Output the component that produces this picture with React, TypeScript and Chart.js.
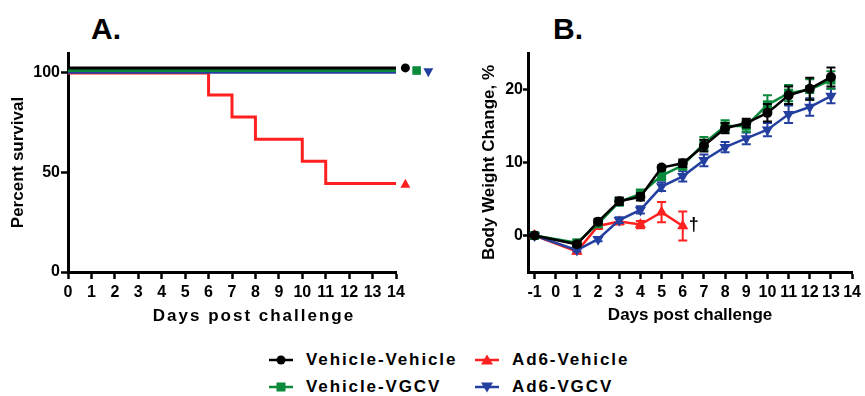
import React, { useEffect, useRef } from "react";
import { Chart, registerables } from "chart.js";

Chart.register(...registerables);

const FONT = '"Liberation Sans", Arial, Helvetica, sans-serif';

const C_VV = "#000000";
const C_AV = "#ff2020";
const C_VG = "#0b8a3b";
const C_AG = "#2340a0";

// ---------- Panel A: survival ----------
const SURV_X_TICKS = [0, 1, 2, 3, 4, 5, 6, 7, 8, 9, 10, 11, 12, 13, 14];
const SURV_Y_TICKS = [0, 50, 100];
const SURV_DAYS_FLAT = [0, 14];
const SURV_VV = [102.5, 102.5];
const SURV_VG = [101.2, 101.2];
const SURV_AG = [100.3, 100.3];
const SURV_DAYS_AV = [0, 6, 7, 8, 10, 11, 14];
const SURV_AV = [100, 88.9, 77.8, 66.7, 55.6, 44.4, 44.4];
// symbols printed beside the curve ends (x in days)
const END_MARK_X = [14.4, 14.88, 15.38];
const END_MARK_AV_X = 14.4;

// ---------- Panel B: body weight ----------
const WEIGHT_X_TICKS = [-1, 0, 1, 2, 3, 4, 5, 6, 7, 8, 9, 10, 11, 12, 13, 14];
const WEIGHT_Y_TICKS = [0, 10, 20];
const WEIGHT_DAYS = [-1, 1, 2, 3, 4, 5, 6, 7, 8, 9, 10, 11, 12, 13];
const WEIGHT_VV = [0, -1.2, 1.9, 4.7, 5.3, 9.3, 9.9, 12.3, 14.7, 15.4, 16.8, 19.2, 20.1, 21.7];
const WEIGHT_VV_ERR = [0, 0.3, 0.4, 0.5, 0.5, 0.3, 0.5, 0.8, 0.7, 0.6, 1.2, 1.2, 1.5, 1.3];
const WEIGHT_VG = [0, -1.0, 1.6, 4.6, 5.7, 8.2, 9.6, 12.6, 15.0, 15.0, 17.9, 19.5, 20.0, 21.3];
const WEIGHT_VG_ERR = [0, 0.3, 0.4, 0.5, 0.6, 0.6, 0.6, 0.9, 0.8, 0.8, 1.3, 1.1, 1.4, 1.2];
const WEIGHT_AG = [0, -2.0, -0.5, 2.1, 3.5, 6.7, 8.1, 10.3, 12.1, 13.3, 14.5, 16.6, 17.6, 19.1];
const WEIGHT_AG_ERR = [0, 0.2, 0.3, 0.4, 0.5, 0.6, 0.7, 0.8, 0.7, 0.8, 0.9, 1.2, 1.2, 1.0];
const WEIGHT_DAYS_AV = [-1, 1, 2, 3, 4, 5, 6];
const WEIGHT_AV = [0, -2.2, 1.3, 1.9, 1.5, 3.2, 1.3];
const WEIGHT_AV_ERR = [0, 0.3, 0.4, 0.4, 0.5, 1.4, 2.0];

const pts = (xs: number[], ys: number[]) => xs.map((x, i) => ({ x, y: ys[i] }));

function drawShape(ctx: CanvasRenderingContext2D, shape: string, x: number, y: number, r: number, color: string) {
  ctx.save();
  ctx.fillStyle = color;
  ctx.beginPath();
  if (shape === "circle") {
    ctx.arc(x, y, r, 0, Math.PI * 2);
  } else if (shape === "rect") {
    ctx.rect(x - r, y - r, 2 * r, 2 * r);
  } else if (shape === "up") {
    ctx.moveTo(x, y - r * 1.1);
    ctx.lineTo(x + r * 1.1, y + r * 0.9);
    ctx.lineTo(x - r * 1.1, y + r * 0.9);
    ctx.closePath();
  } else if (shape === "down") {
    ctx.moveTo(x, y + r * 1.1);
    ctx.lineTo(x + r * 1.1, y - r * 0.9);
    ctx.lineTo(x - r * 1.1, y - r * 0.9);
    ctx.closePath();
  }
  ctx.fill();
  ctx.restore();
}

const endMarksPlugin = {
  id: "endMarks",
  afterDatasetsDraw(chart: any) {
    const xs = chart.scales.x;
    const ys = chart.scales.y;
    const marks = [
      { x: END_MARK_X[0], y: SURV_VV[SURV_VV.length - 1], shape: "circle", r: 4.5, c: C_VV },
      { x: END_MARK_X[1], y: SURV_VG[SURV_VG.length - 1], shape: "rect", r: 4.3, c: C_VG },
      { x: END_MARK_X[2], y: SURV_AG[SURV_AG.length - 1], shape: "down", r: 4.5, c: C_AG },
      { x: END_MARK_AV_X, y: SURV_AV[SURV_AV.length - 1], shape: "up", r: 4.5, c: C_AV },
    ];
    marks.forEach((m) =>
      drawShape(chart.ctx, m.shape, xs.getPixelForValue(m.x), ys.getPixelForValue(m.y), m.r, m.c)
    );
  },
};

const errorBarPlugin = {
  id: "errorBars",
  beforeDatasetDraw(chart: any, args: any) {
    const ds = chart.data.datasets[args.index];
    const errs: number[] | undefined = ds.errors;
    if (!errs) return;
    const ctx = chart.ctx;
    const ys = chart.scales.y;
    ctx.save();
    ctx.strokeStyle = ds.borderColor;
    ctx.lineWidth = 2;
    args.meta.data.forEach((p: any, i: number) => {
      const e = errs[i];
      if (!e) return;
      const v = ds.data[i].y;
      const yt = ys.getPixelForValue(v + e);
      const yb = ys.getPixelForValue(v - e);
      ctx.beginPath();
      ctx.moveTo(p.x, yt);
      ctx.lineTo(p.x, yb);
      ctx.moveTo(p.x - 4.5, yt);
      ctx.lineTo(p.x + 4.5, yt);
      ctx.moveTo(p.x - 4.5, yb);
      ctx.lineTo(p.x + 4.5, yb);
      ctx.stroke();
    });
    ctx.restore();
  },
};

const daggerPlugin = {
  id: "dagger",
  afterDatasetsDraw(chart: any) {
    const idx = chart.data.datasets.findIndex((d: any) => d.label === "Ad6-Vehicle");
    if (idx < 0) return;
    const meta = chart.getDatasetMeta(idx);
    const last = meta.data[meta.data.length - 1];
    const ctx = chart.ctx;
    ctx.save();
    ctx.fillStyle = "#000";
    ctx.font = `bold 18px ${FONT}`;
    ctx.textAlign = "center";
    ctx.textBaseline = "middle";
    ctx.fillText("\u2020", last.x + 11, last.y - 1);
    ctx.restore();
  },
};

const spacedXTitlePlugin = {
  id: "spacedXTitle",
  afterDraw(chart: any) {
    const ctx = chart.ctx;
    const xs = chart.scales.x;
    const a = chart.chartArea;
    ctx.save();
    ctx.fillStyle = "#000";
    ctx.font = `bold 17px ${FONT}`;
    (ctx as any).letterSpacing = "2px";
    ctx.textAlign = "center";
    ctx.textBaseline = "middle";
    ctx.fillText("Days post challenge", (a.left + a.right) / 2 + 22, xs.bottom - 14);
    ctx.restore();
  },
};

const tickFont = { family: FONT, size: 16, weight: "bold" as const };
const titleFont = { family: FONT, size: 17, weight: "bold" as const };

function axisCommon(tickLength: number) {
  return {
    border: { color: "#000", width: 3 },
    grid: {
      drawOnChartArea: false,
      drawTicks: true,
      tickLength,
      tickColor: "#000",
      tickWidth: 2.5,
    },
  };
}

function SurvivalChart() {
  const ref = useRef<HTMLCanvasElement | null>(null);
  useEffect(() => {
    if (!ref.current) return;
    const line = (label: string, color: string, xs: number[], ys: number[]) => ({
      label,
      data: pts(xs, ys),
      borderColor: color,
      backgroundColor: color,
      borderWidth: 3,
      pointRadius: 0,
      stepped: "before" as const,
      fill: false,
    });
    const chart = new Chart(ref.current, {
      type: "line",
      data: {
        datasets: [
          line("Vehicle-Vehicle", C_VV, SURV_DAYS_FLAT, SURV_VV),
          line("Vehicle-VGCV", C_VG, SURV_DAYS_FLAT, SURV_VG),
          line("Ad6-VGCV", C_AG, SURV_DAYS_FLAT, SURV_AG),
          line("Ad6-Vehicle", C_AV, SURV_DAYS_AV, SURV_AV),
        ] as any,
      },
      options: {
        responsive: false,
        animation: false,
        devicePixelRatio: 1,
        layout: { padding: { left: 0, top: 53, right: 44, bottom: 0 } },
        plugins: { legend: { display: false }, tooltip: { enabled: false } },
        scales: {
          x: {
            type: "linear",
            min: 0,
            max: 14,
            afterBuildTicks: (s: any) => {
              s.ticks = SURV_X_TICKS.map((v) => ({ value: v }));
            },
            afterFit: (s: any) => {
              s.height = 58;
            },
            ...axisCommon(7),
            ticks: { color: "#000", font: tickFont, padding: 4, maxRotation: 0, autoSkip: false },
            title: { display: false },
          },
          y: {
            type: "linear",
            min: 0,
            max: 110,
            afterBuildTicks: (s: any) => {
              s.ticks = SURV_Y_TICKS.map((v) => ({ value: v }));
            },
            afterFit: (s: any) => {
              s.width = 68;
            },
            ...axisCommon(7),
            ticks: { color: "#000", font: tickFont, padding: 1 },
            title: {
              display: true,
              text: "Percent survival",
              color: "#000",
              font: titleFont,
              padding: { top: 8, bottom: 0 },
            },
          },
        },
      } as any,
      plugins: [spacedXTitlePlugin, endMarksPlugin],
    });
    return () => chart.destroy();
  }, []);
  return (
    <canvas
      ref={ref}
      width={440}
      height={330}
      style={{ position: "absolute", left: 0, top: 0, width: 440, height: 330 }}
    />
  );
}

function WeightChart() {
  const ref = useRef<HTMLCanvasElement | null>(null);
  useEffect(() => {
    if (!ref.current) return;
    const series = (
      label: string,
      color: string,
      xs: number[],
      ys: number[],
      errs: number[],
      style: string,
      r: number,
      rot = 0
    ) => ({
      label,
      data: pts(xs, ys),
      errors: errs,
      borderColor: color,
      backgroundColor: color,
      borderWidth: 2.5,
      pointStyle: style,
      pointRadius: r,
      pointRotation: rot,
      pointBorderWidth: 0,
      fill: false,
      tension: 0,
    });
    const chart = new Chart(ref.current, {
      type: "line",
      data: {
        datasets: [
          series("Vehicle-Vehicle", C_VV, WEIGHT_DAYS, WEIGHT_VV, WEIGHT_VV_ERR, "circle", 5),
          series("Vehicle-VGCV", C_VG, WEIGHT_DAYS, WEIGHT_VG, WEIGHT_VG_ERR, "rect", 6.4),
          series("Ad6-VGCV", C_AG, WEIGHT_DAYS, WEIGHT_AG, WEIGHT_AG_ERR, "triangle", 6.5, 180),
          series("Ad6-Vehicle", C_AV, WEIGHT_DAYS_AV, WEIGHT_AV, WEIGHT_AV_ERR, "triangle", 6.5),
        ] as any,
      },
      options: {
        responsive: false,
        animation: false,
        devicePixelRatio: 1,
        layout: { padding: { left: 0, top: 53, right: 9, bottom: 0 } },
        plugins: { legend: { display: false }, tooltip: { enabled: false } },
        scales: {
          x: {
            type: "linear",
            min: -1.31,
            max: 14,
            afterBuildTicks: (s: any) => {
              s.ticks = WEIGHT_X_TICKS.map((v) => ({ value: v }));
            },
            afterFit: (s: any) => {
              s.height = 58;
            },
            ...axisCommon(7),
            ticks: { color: "#000", font: tickFont, padding: 4, maxRotation: 0, autoSkip: false },
            title: {
              display: true,
              text: "Days post challenge",
              color: "#000",
              font: titleFont,
              padding: { top: 0, bottom: 4 },
            },
          },
          y: {
            type: "linear",
            min: -5,
            max: 25,
            afterBuildTicks: (s: any) => {
              s.ticks = WEIGHT_Y_TICKS.map((v) => ({ value: v }));
            },
            afterFit: (s: any) => {
              s.width = 68;
            },
            ...axisCommon(5),
            ticks: { color: "#000", font: tickFont, padding: 0 },
            title: {
              display: true,
              text: "Body Weight Change, %",
              color: "#000",
              font: titleFont,
              padding: { top: 19, bottom: 0 },
            },
          },
        },
      } as any,
      plugins: [errorBarPlugin, daggerPlugin],
    });
    return () => chart.destroy();
  }, []);
  return (
    <canvas
      ref={ref}
      width={405}
      height={330}
      style={{ position: "absolute", left: 460, top: 0, width: 405, height: 330 }}
    />
  );
}

function Symbol({ color, shape }: { color: string; shape: string }) {
  let marker: any = null;
  if (shape === "circle") marker = <circle cx={12} cy={7} r={4.5} fill={color} />;
  if (shape === "rect") marker = <rect x={7.5} y={2.5} width={9} height={9} fill={color} />;
  if (shape === "up") marker = <polygon points="12,1.5 18,11.5 6,11.5" fill={color} />;
  if (shape === "down") marker = <polygon points="12,12.5 18,2.5 6,2.5" fill={color} />;
  return (
    <svg width={25} height={14} style={{ display: "block" }}>
      <line x1={0} y1={7} x2={24} y2={7} stroke={color} strokeWidth={2.5} />
      {marker}
    </svg>
  );
}

const LEGEND = [
  { label: "Vehicle-Vehicle", color: C_VV, shape: "circle", sx: 269, tx: 306, cy: 360 },
  { label: "Ad6-Vehicle", color: C_AV, shape: "up", sx: 475, tx: 512, cy: 360 },
  { label: "Vehicle-VGCV", color: C_VG, shape: "rect", sx: 269, tx: 306, cy: 387 },
  { label: "Ad6-VGCV", color: C_AG, shape: "down", sx: 475, tx: 512, cy: 387 },
];

export default function App() {
  return (
    <div
      style={{
        position: "fixed",
        left: 0,
        top: 0,
        width: 865,
        height: 396,
        background: "#fff",
        fontFamily: FONT,
        overflow: "hidden",
      }}
    >
      <div
        style={{
          position: "absolute",
          left: 91,
          top: 14,
          fontSize: 30,
          lineHeight: "30px",
          fontWeight: "bold",
          color: "#000",
        }}
      >
        A.
      </div>
      <div
        style={{
          position: "absolute",
          left: 553,
          top: 14,
          fontSize: 30,
          lineHeight: "30px",
          fontWeight: "bold",
          color: "#000",
        }}
      >
        B.
      </div>
      <SurvivalChart />
      <WeightChart />
      {LEGEND.map((l) => (
        <React.Fragment key={l.label}>
          <div style={{ position: "absolute", left: l.sx, top: l.cy - 7 }}>
            <Symbol color={l.color} shape={l.shape} />
          </div>
          <div
            style={{
              position: "absolute",
              left: l.tx,
              top: l.cy - 10,
              fontSize: 17,
              lineHeight: "20px",
              fontWeight: "bold",
              letterSpacing: "1.9px",
              color: "#000",
              whiteSpace: "nowrap",
            }}
          >
            {l.label}
          </div>
        </React.Fragment>
      ))}
    </div>
  );
}
